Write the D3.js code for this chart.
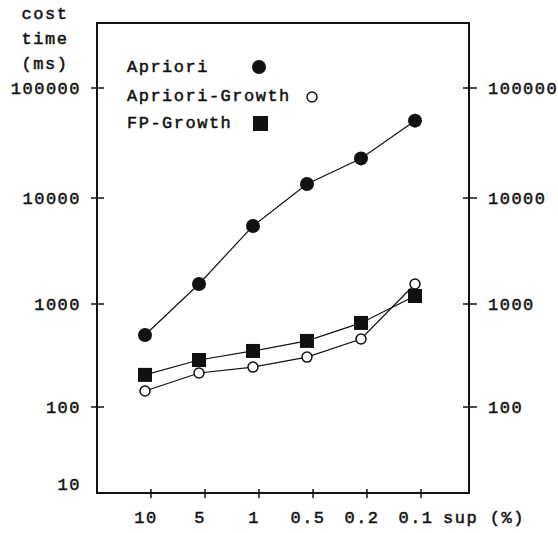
<!DOCTYPE html>
<html>
<head>
<meta charset="utf-8">
<script src="https://cdn.jsdelivr.net/npm/d3@7"></script>
<style>
  body { margin: 0; background: #fff; }
  svg text { font-family: "Liberation Mono", monospace; font-size: 17px; fill: #111; stroke: #111; stroke-width: 0.5px; letter-spacing: 1.5px; }
</style>
</head>
<body>
<div id="chart"></div>
<script>
// support thresholds (%)
var supports = ["10", "5", "1", "0.5", "0.2", "0.1"];
// run time in ms
var apriori       = [500, 1545, 5450, 13400, 22900, 50500];
var aprioriGrowth = [143, 214, 244, 305, 457, 1545];
var fpGrowth      = [205, 286, 350, 438, 655, 1190];
var yTicks = [10, 100, 1000, 10000, 100000];
var rightTicks = [100, 1000, 10000, 100000];

var width = 558, height = 533;
var plotL = 97, plotR = 469, plotT = 23, plotB = 493;

var svg = d3.select("#chart").append("svg").attr("width", width).attr("height", height);

var x = d3.scalePoint().domain(supports).range([145, 415]);
// hand drawn axis: decades are not evenly spaced
var y = d3.scaleLog().domain(yTicks).range([493, 407, 304, 198, 88]);

// frame
svg.append("path")
    .attr("d", "M" + plotL + "," + plotT + "H" + plotR + "V" + plotB + "H" + plotL + "Z")
    .attr("fill", "none").attr("stroke", "#111").attr("stroke-width", 2);

// left ticks + labels
var gl = svg.append("g");
gl.selectAll("line").data(yTicks.slice(1)).enter().append("line")
    .attr("x1", plotL - 6).attr("x2", plotL + 7)
    .attr("y1", d => y(d)).attr("y2", d => y(d))
    .attr("stroke", "#111").attr("stroke-width", 1.5);
gl.selectAll("text").data(yTicks).enter().append("text")
    .attr("x", 81).attr("y", d => d == 10 ? 486 : y(d) + 2)
    .attr("text-anchor", "end").attr("dominant-baseline", "middle")
    .text(d => d);

// right ticks + labels
var gr = svg.append("g");
gr.selectAll("line").data(rightTicks).enter().append("line")
    .attr("x1", plotR - 6).attr("x2", plotR + 8)
    .attr("y1", d => y(d)).attr("y2", d => y(d))
    .attr("stroke", "#111").attr("stroke-width", 1.5);
gr.selectAll("text").data(rightTicks).enter().append("text")
    .attr("x", 488).attr("y", d => y(d) + 2)
    .attr("dominant-baseline", "middle")
    .text(d => d);

// x ticks + labels
var gx = svg.append("g");
gx.selectAll("line").data(supports).enter().append("line")
    .attr("x1", d => x(d) + 6).attr("x2", d => x(d) + 6)
    .attr("y1", plotB - 4).attr("y2", plotB + 5)
    .attr("stroke", "#111").attr("stroke-width", 1.5);
gx.selectAll("text").data(supports).enter().append("text")
    .attr("x", d => x(d) + 1).attr("y", 519)
    .attr("text-anchor", "middle").attr("dominant-baseline", "middle")
    .text(d => d);
svg.append("text").attr("x", 443).attr("y", 519).attr("dominant-baseline", "middle").text("sup (%)");

// y title
svg.selectAll(".ytitle").data(["cost", "time", "(ms)"]).enter().append("text")
    .attr("x", 45).attr("y", (d, i) => 15 + i * 25)
    .attr("text-anchor", "middle").attr("dominant-baseline", "middle")
    .text(d => d);

var line = d3.line().x((d, i) => x(supports[i])).y(d => y(d));

function drawSeries(vals) {
    svg.append("path").datum(vals).attr("d", line)
        .attr("fill", "none").attr("stroke", "#111").attr("stroke-width", 1.2);
}
drawSeries(apriori);
drawSeries(aprioriGrowth);
drawSeries(fpGrowth);

svg.append("g").selectAll("circle").data(apriori).enter().append("circle")
    .attr("cx", (d, i) => x(supports[i])).attr("cy", d => y(d)).attr("r", 7)
    .attr("fill", "#111");
svg.append("g").selectAll("circle").data(aprioriGrowth).enter().append("circle")
    .attr("cx", (d, i) => x(supports[i])).attr("cy", d => y(d)).attr("r", 5)
    .attr("fill", "#fff").attr("stroke", "#111").attr("stroke-width", 1.5);
svg.append("g").selectAll("rect").data(fpGrowth).enter().append("rect")
    .attr("x", (d, i) => x(supports[i]) - 7).attr("y", d => y(d) - 7)
    .attr("width", 14).attr("height", 14).attr("fill", "#111");

// legend
var lg = svg.append("g");
lg.append("text").attr("x", 127).attr("y", 68).attr("dominant-baseline", "middle").text("Apriori");
lg.append("circle").attr("cx", 259).attr("cy", 67).attr("r", 7).attr("fill", "#111");
lg.append("text").attr("x", 127).attr("y", 97).attr("dominant-baseline", "middle").text("Apriori-Growth");
lg.append("circle").attr("cx", 312).attr("cy", 97).attr("r", 5).attr("fill", "#fff").attr("stroke", "#111").attr("stroke-width", 1.5);
lg.append("text").attr("x", 127).attr("y", 124).attr("dominant-baseline", "middle").text("FP-Growth");
lg.append("rect").attr("x", 253).attr("y", 116).attr("width", 15).attr("height", 15).attr("fill", "#111");
</script>
</body>
</html>
